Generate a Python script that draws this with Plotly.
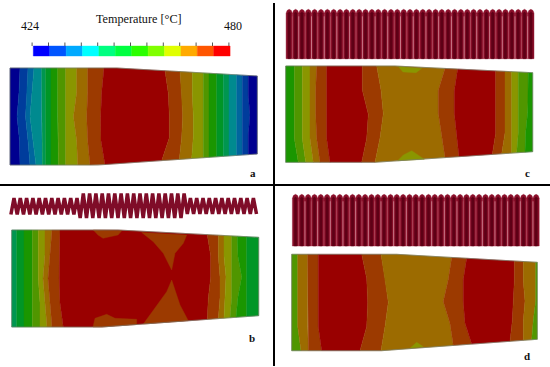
import plotly.graph_objects as go

# temperature scale, one colour per bin
bin_colors = ['#0000ff', '#0055ff', '#00aaff', '#00ffff', '#00ff80', '#00ff40',
              '#2bff00', '#80ff00', '#e0ff00', '#ffaa00', '#ff5500', '#ff0000']
plate_colors = ['#00008f', '#003c9c', '#00669e', '#008a8f', '#009650', '#009626',
                '#1a9600', '#509600', '#8a9600', '#9c6b00', '#9c3a00', '#990000']
bar_edges = [33.3, 49.7, 66.1, 82.5, 98.9, 115.3, 131.7, 148.1, 164.5, 180.9, 197.3, 213.7, 230.1]

# t = position across the plate, 0 top edge, 1 bottom edge
t_levels = [0, 0.25, 0.5, 0.75, 1]

# plate outline: left, right, top y, top kink x, top right y, bottom y, bottom kink x, bottom right y
plate_a = [10, 257.3, 68, 117, 76, 165, 98, 154]
levels_a = [0, 1, 2, 3, 4, 5, 6, 7, 8, 9, 10, 11, 10, 9, 8, 7, 6, 5, 4, 3, 2, 1, 0]
bounds_a = [
    [20, 19, 17, 19.5, 20],
    [28, 27, 25.5, 28, 30],
    [34, 32, 30, 33, 36],
    [41.7, 41.7, 41.7, 41.7, 42.3],
    [45.7, 45.7, 45.7, 45.7, 45.7],
    [51, 51, 51, 51, 51],
    [57.7, 57.7, 57.7, 57.7, 58.3],
    [65.7, 65.7, 65.7, 65.7, 65.7],
    [76.7, 76.7, 73.5, 76.7, 77.7],
    [87.7, 87.7, 86.7, 87.7, 90],
    [104, 101.7, 100.7, 101, 105],
    [165, 168.3, 169.3, 169.3, 161.7],
    [180, 181.7, 182.7, 181.7, 179.3],
    [192.3, 192.3, 193.3, 193.3, 191.7],
    [203.3, 203.3, 203.3, 203.3, 203.3],
    [209, 209, 209, 209, 209],
    [216.7, 216.7, 216.7, 216.7, 216.7],
    [223.3, 223.3, 223.3, 223.3, 223.3],
    [229, 229, 229, 229, 229],
    [236.7, 236.7, 236.7, 236.7, 236.7],
    [242.3, 242.3, 242.3, 242.3, 242.3],
    [248.3, 248.3, 250, 248.3, 248.3],
]

plate_b = [11.7, 258.7, 230, 118, 237.3, 327, 101.7, 315.7]
levels_b = [4, 5, 6, 7, 8, 9, 10, 11, 10, 9, 8, 7, 6, 5]
bounds_b = [
    [16.7, 16.7, 16.7, 16.7, 16.7],
    [24, 24, 24, 24, 24],
    [32.3, 32.3, 32.3, 32.3, 32.3],
    [38.3, 38.3, 38.3, 40, 40],
    [45, 45, 43, 45, 47],
    [52, 50, 48, 50, 52],
    [60, 59.3, 59.3, 60, 63.3],
    [207.3, 210.7, 210.7, 208.3, 207.3],
    [218.3, 218.3, 220, 220, 218.3],
    [224, 224, 226, 225, 224],
    [231.7, 231.7, 231.7, 231.7, 230],
    [237.3, 238, 241.7, 238, 236],
    [246.7, 246.7, 246.7, 246.7, 246.7],
]
patches_b_x = [
    [93.3, 122, 118, 103, 98],
    [141.7, 186.7, 183.3, 175, 171.7, 163.3, 153.3],
    [171.7, 180, 188.3, 143.3, 153.3, 166.7],
    [93, 95, 106.7, 115, 136.7, 136.7, 101.7],
]
patches_b_y = [
    [230, 230.5, 235, 238.3, 235],
    [232.5, 235, 243.3, 253.3, 270, 253.3, 241.7],
    [280, 305, 320.7, 324, 310.3, 291.7],
    [327, 318.3, 314.3, 318.3, 319.3, 324.5, 327],
]
patches_b_level = [10, 10, 10, 10]

plate_c = [285.7, 532.7, 66, 395, 72.7, 162.3, 375, 151.7]
levels_c = [6, 7, 8, 9, 10, 11, 10, 9, 10, 11, 10, 9, 8, 7, 6]
bounds_c = [
    [294.3, 294.3, 294.3, 294.3, 298.3],
    [302.3, 302.3, 302.3, 302.3, 305.7],
    [310, 310, 310, 310, 313.3],
    [316.7, 315.7, 315.7, 316.7, 320],
    [326.7, 326.7, 326.7, 326.7, 330],
    [362.3, 362.3, 368.3, 366.7, 361.7],
    [376.7, 381, 383.3, 380, 375],
    [445, 438.3, 438.3, 441.7, 445],
    [457.7, 454.3, 454.3, 456.7, 459],
    [495.7, 495.7, 495.7, 495.7, 492.3],
    [505, 505, 505, 505, 501.7],
    [511.7, 511.7, 511.7, 511.7, 511.7],
    [518.3, 518.3, 518.3, 518.3, 516.7],
    [528.3, 528.3, 527.7, 525.7, 525],
]
patches_c_x = [
    [398.3, 421.7, 416, 403],
    [397.7, 403.3, 411.7, 418.3, 424.3],
]
patches_c_y = [
    [66.5, 68.5, 72.7, 72],
    [160.7, 155, 150.7, 155, 159.3],
]
patches_c_level = [8, 8]

plate_d = [291.7, 537.3, 254.3, 396.7, 262.3, 350.7, 381.7, 339.3]
levels_d = [7, 9, 10, 11, 10, 9, 10, 11, 10, 9, 7]
bounds_d = [
    [297.7, 297.7, 297.7, 297.7, 301],
    [307.7, 307.7, 307.7, 307.7, 308.3],
    [318.3, 318.3, 318.3, 318.3, 321.7],
    [361.7, 366.7, 367.7, 366.7, 360],
    [381, 385, 388.3, 385, 381],
    [451.7, 448.3, 443.3, 450, 453.3],
    [466.7, 463.3, 463.3, 465, 471.7],
    [514.3, 514.3, 513.3, 512.3, 510],
    [523.3, 523.3, 525, 523.3, 523.3],
    [535.7, 535.7, 535.7, 533.3, 531.7],
]
patches_d_x = [[410, 416.7, 423.3]]
patches_d_y = [[348.3, 342.3, 346.7]]
patches_d_level = [8]

# coil turn centres, seen from the side (c, d) and from above (b)
turns_c = [289.2, 295.6, 301.9, 308.3, 314.6, 321.0, 327.4, 333.7, 340.1, 346.4, 352.8, 359.2, 365.5,
           371.9, 378.2, 384.6, 391.0, 397.3, 403.7, 410.0, 416.4, 422.8, 429.1, 435.5, 441.8, 448.2,
           454.6, 460.9, 467.3, 473.6, 480.0, 486.4, 492.7, 499.1, 505.4, 511.8, 518.2, 524.5, 530.9]
turns_d = [295.5, 301.8, 308.1, 314.5, 320.8, 327.1, 333.5, 339.8, 346.1, 352.5, 358.8, 365.1, 371.5,
           377.8, 384.1, 390.5, 396.8, 403.1, 409.5, 415.8, 422.1, 428.5, 434.8, 441.1, 447.5, 453.8,
           460.1, 466.5, 472.8, 479.1, 485.5, 491.8, 498.1, 504.5, 510.8, 517.1, 523.5, 529.8, 536.1]
coil_c_y = [9.3, 58.7]
coil_d_y = [194.3, 246]

coil_b_x = [14, 20.3, 26.6, 32.9, 39.2, 45.5, 51.8, 58.1, 64.4, 70.7, 77, 83.3, 89.6, 95.9, 102.2, 108.5,
            114.8, 121.1, 127.4, 133.7, 140, 146.3, 152.6, 158.9, 165.2, 171.5, 177.8, 184.1, 190.4, 196.7,
            203, 209.3, 215.6, 221.9, 228.2, 234.5, 240.8, 247.1, 253.4]
coil_b_top = [198] * 11 + [193.5] * 17 + [198] * 11
coil_b_bottom = [214.5] * 11 + [218] * 17 + [214] * 11


fig = go.Figure()


def poly(xs, ys, color):
    fig.add_trace(go.Scatter(x=xs, y=ys, mode='lines', fill='toself', fillcolor=color,
                             line=dict(color=color, width=0.4), hoverinfo='skip', showlegend=False))


def plate_y(plate, x, t):
    left, right, ytop, ktop, ytopr, ybot, kbot, ybotr = plate
    top = ytop if x <= ktop else ytop + (ytopr - ytop) * (x - ktop) / (right - ktop)
    bot = ybot if x <= kbot else ybot + (ybotr - ybot) * (x - kbot) / (right - kbot)
    return top + (bot - top) * t


def draw_plate(plate, levels, bounds):
    left, right, ytop, ktop, ytopr, ybot, kbot, ybotr = plate
    edges = [[left] * 5] + bounds + [[right] * 5]
    for i in range(len(levels)):
        a = edges[i]
        b = edges[i + 1]
        xs = list(a)
        ys = [plate_y(plate, x, t) for x, t in zip(a, t_levels)]
        if a[-1] < kbot < b[-1]:
            xs.append(kbot)
            ys.append(ybot)
        xs += b[::-1]
        ys += [plate_y(plate, x, t) for x, t in zip(b[::-1], t_levels[::-1])]
        if a[0] < ktop < b[0]:
            xs.append(ktop)
            ys.append(ytop)
        xs.append(xs[0])
        ys.append(ys[0])
        poly(xs, ys, plate_colors[levels[i]])


def draw_outline(plate):
    left, right, ytop, ktop, ytopr, ybot, kbot, ybotr = plate
    fig.add_trace(go.Scatter(x=[left, ktop, right, right, kbot, left, left],
                             y=[ytop, ytop, ytopr, ybotr, ybot, ybot, ytop], mode='lines',
                             line=dict(color='#77806f', width=0.7), hoverinfo='skip', showlegend=False))


def draw_coil(turns, coil_y):
    top, bot = coil_y
    for n, cx in enumerate(turns):
        poly([cx - 3.1, cx - 3.1, cx - 2.1, cx, cx + 2.1, cx + 3.1, cx + 3.1, cx - 3.1],
             [bot, top + 4, top + 1.2, top, top + 1.2, top + 4, bot, bot], '#8a0f2a')
        # dark core of the tube
        poly([cx - 1.3, cx - 1.3, cx, cx + 1.3, cx + 1.3, cx - 1.3],
             [bot, top + 4, top + 2.5, top + 4, bot, bot], '#5e0016')
    for n, cx in enumerate(turns[:-1]):
        fig.add_trace(go.Scatter(x=[cx + 3.18, cx + 3.18], y=[top + 7, bot], mode='lines',
                                 line=dict(color='#d58a98' if n % 2 else '#b0465a', width=0.8),
                                 hoverinfo='skip', showlegend=False))


draw_plate(plate_a, levels_a, bounds_a)
draw_plate(plate_b, levels_b, bounds_b)
for xs, ys, lev in zip(patches_b_x, patches_b_y, patches_b_level):
    poly(xs + xs[:1], ys + ys[:1], plate_colors[lev])
draw_plate(plate_c, levels_c, bounds_c)
for xs, ys, lev in zip(patches_c_x, patches_c_y, patches_c_level):
    poly(xs + xs[:1], ys + ys[:1], plate_colors[lev])
draw_plate(plate_d, levels_d, bounds_d)
for xs, ys, lev in zip(patches_d_x, patches_d_y, patches_d_level):
    poly(xs + xs[:1], ys + ys[:1], plate_colors[lev])
for p in [plate_a, plate_b, plate_c, plate_d]:
    draw_outline(p)

draw_coil(turns_c, coil_c_y)
draw_coil(turns_d, coil_d_y)

# flat coil of panel b, zigzag between top and bottom of each turn
zx = []
zy = []
for x, t, b in zip(coil_b_x, coil_b_top, coil_b_bottom):
    zx += [x - 3.1, x]
    zy += [b, t]
zx.append(coil_b_x[-1] + 3.1)
zy.append(coil_b_bottom[-1])
fig.add_trace(go.Scatter(x=zx, y=zy, mode='lines', line=dict(color='#7f0c28', width=3.5),
                         hoverinfo='skip', showlegend=False))

# colour bar
for i, c in enumerate(bin_colors):
    poly([bar_edges[i], bar_edges[i + 1], bar_edges[i + 1], bar_edges[i], bar_edges[i]],
         [46, 46, 56, 56, 46], c)
tx = []
ty = []
for e in bar_edges:
    tx += [e - 1.2, e - 1.2, None]
    ty += [42.5, 46, None]
fig.add_trace(go.Scatter(x=tx, y=ty, mode='lines', line=dict(color='#444444', width=0.9),
                         hoverinfo='skip', showlegend=False))

# panel dividers
fig.add_trace(go.Scatter(x=[274, 274, None, 0, 550], y=[3, 366, None, 185, 185], mode='lines',
                         line=dict(color='black', width=2), hoverinfo='skip', showlegend=False))

serif = 'Liberation Serif'
for txt, x, y, size, bold in [('Temperature [°C]', 139, 19, 12.2, False),
                              ('424', 30, 26, 12, False), ('480', 232.5, 26, 12, False),
                              ('a', 253, 173, 11, True), ('c', 527, 173, 11, True),
                              ('b', 252, 338, 11, True), ('d', 527, 356, 11, True)]:
    fig.add_annotation(x=x, y=y, text='<b>%s</b>' % txt if bold else txt, showarrow=False,
                       font=dict(family=serif, size=size, color='#111111'))

fig.update_layout(width=550, height=367, margin=dict(l=0, r=0, t=0, b=0),
                  paper_bgcolor='white', plot_bgcolor='white', showlegend=False,
                  xaxis=dict(range=[0, 550], visible=False, fixedrange=True),
                  yaxis=dict(range=[367, 0], visible=False, fixedrange=True))

fig.write_html("out.html", config=dict(displayModeBar=False),
               post_script="document.body.style.margin='0';")
